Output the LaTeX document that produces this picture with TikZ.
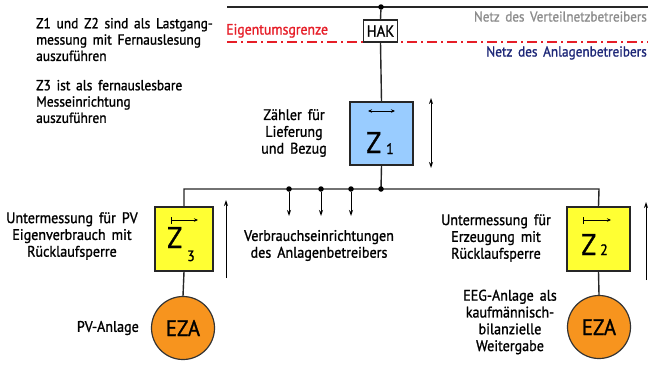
\documentclass[tikz,border=0pt]{standalone}
\usepackage{fontspec}
\setmainfont{PT Sans}[FakeStretch=0.92, FakeBold=1.2, WordSpace=1.6]
\usetikzlibrary{arrows.meta}
\definecolor{zblue}{RGB}{153,204,255}
\definecolor{zyellow}{RGB}{255,255,51}
\definecolor{ezaorange}{RGB}{247,148,30}
\definecolor{grenzred}{RGB}{230,30,40}
\definecolor{navy}{RGB}{30,40,120}
\definecolor{netzgray}{RGB}{140,140,140}
\tikzset{
  wire/.style={line width=1.4bp, black!85},
  meterbox/.style={draw=black!85, line width=1.4bp, minimum height=64bp, inner sep=0pt},
  eza/.style={circle, draw=black!80, line width=1.2bp, fill=ezaorange, minimum size=63bp, inner sep=0pt, font=\fontsize{22.5bp}{22.5bp}\selectfont},
  dotj/.style={circle, fill=black, minimum size=5.5bp, inner sep=0pt},
  flow/.style={line width=1bp, -{Stealth[length=6bp,width=4bp]}},
  inarrow/.style={line width=0.9bp},
  lbl/.style={align=center, font=\fontsize{15.3bp}{16.8bp}\selectfont, inner sep=0pt},
  note/.style={align=left, font=\fontsize{14.6bp}{16.3bp}\selectfont, inner sep=0pt, anchor=west},
  zbig/.style={font=\fontsize{30bp}{30bp}\selectfont, inner sep=0pt},
  zsub/.style={font=\fontsize{15bp}{15bp}\selectfont, inner sep=0pt}
}
\begin{document}
\begin{tikzpicture}[x=1bp,y=-1bp]
\useasboundingbox (0,0) rectangle (648,372);
% top grid line
\coordinate (topL) at (227,7);
\coordinate (topR) at (648,7);
\draw[wire] (topL) -- (topR);
\node[dotj] (jtop) at (381,7) {};
% red boundary
\coordinate (redL) at (227,42);
\coordinate (redR) at (648,42);
\draw[grenzred, line width=1.7bp, dash pattern=on 10bp off 4bp on 2bp off 4bp] (redL) -- (redR);
\node[draw=black!85, line width=1.3bp, fill=white, minimum width=34bp, minimum height=22bp, inner sep=0pt, font=\fontsize{16bp}{16bp}\selectfont] (hak) at (380.5,31) {HAK};
\node[anchor=base west, text=grenzred, font=\fontsize{15bp}{15bp}\selectfont, inner sep=0pt] (eig) at (226,34.5) {Eigentumsgrenze};
\node[anchor=base east, text=netzgray, font=\fontsize{14.2bp}{14bp}\selectfont, inner sep=0pt] (nvnb) at (647,21.5) {Netz des Verteilnetzbetreibers};
\node[anchor=base east, text=navy, font=\fontsize{14.4bp}{14bp}\selectfont, inner sep=0pt] (nab) at (647,56.5) {Netz des Anlagenbetreibers};
% Z1
\node[meterbox, fill=zblue, minimum width=63bp, minimum height=63bp] (z1) at (381.5,133.5) {};
\draw[wire] (jtop) -- (hak.north);
\draw[wire] (hak.south) -- (z1.north);
\coordinate (bus1) at (381,189);
\draw[wire] (z1.south) -- (bus1);
% meters Z3 / Z2
\node[meterbox, fill=zyellow, minimum width=58bp] (z3) at (184,239) {};
\node[meterbox, fill=zyellow, minimum width=63bp] (z2) at (598.5,239) {};
\coordinate (busR) at (599,189);
\draw[wire] (z3.north) |- (busR) -- (z2.north);
% consumer taps
\foreach \n/\x in {c1/289,c2/321,c3/351}{
  \node[dotj] (\n) at (\x,189) {};
  \coordinate (\n e) at (\x,216);
  \draw[flow] (\n) -- (\n e);
}
\node[dotj] (c4) at (381,189) {};
% EZA
\node[eza] (eza3) at (183,328) {EZA};
\node[eza] (eza2) at (599,327) {EZA};
\draw[wire] (z3.south) -- (eza3.north);
\draw[wire] (z2.south) -- (eza2.north);
% symbols in meters
\coordinate (a1s) at (368,111); \coordinate (a1e) at (395,111);
\draw[inarrow, {Stealth[length=4bp,width=3.5bp]}-{Stealth[length=4bp,width=3.5bp]}] (a1s) -- (a1e);
\node[zbig, anchor=base west] (z1t) at (366,153) {Z};
\node[zsub, anchor=base west] (z1s) at (386,154) {1};
\coordinate (a3s) at (171,220); \coordinate (a3e) at (198,220);
\draw[inarrow, {Bar[width=7bp]}-{Stealth[length=4bp,width=3.5bp]}] (a3s) -- (a3e);
\node[zbig, anchor=base west] (z3t) at (167,248) {Z};
\node[zsub, anchor=base west] (z3s) at (187,261) {3};
\coordinate (a2s) at (583,220); \coordinate (a2e) at (611,220);
\draw[inarrow, {Bar[width=7bp]}-{Stealth[length=4bp,width=3.5bp]}] (a2s) -- (a2e);
\node[zbig, anchor=base west] (z2t) at (581,255) {Z};
\node[zsub, anchor=base west] (z2s) at (600,255) {2};
% side flow arrows
\coordinate (d1) at (431,98); \coordinate (d2) at (431,168);
\draw[line width=1bp, {Stealth[length=6bp,width=4bp]}-{Stealth[length=6bp,width=4bp]}] (d1) -- (d2);
\coordinate (u3a) at (226,278); \coordinate (u3b) at (226,200);
\draw[flow] (u3a) -- (u3b);
\coordinate (u2a) at (646,280); \coordinate (u2b) at (646,202);
\draw[flow] (u2a) -- (u2b);
% labels
\node[note] (noteA) at (36,39.5) {Z1 und Z2 sind als Lastgang-\\messung mit Fernauslesung\\auszuführen};
\node[note] (noteB) at (36,101.5) {Z3 ist als fernauslesbare\\Messeinrichtung\\auszuführen};
\node[lbl] (lz1) at (294,133) {Zähler für\\Lieferung\\und Bezug};
\node[lbl] (lverb) at (319,245.5) {Verbrauchseinrichtungen\\des Anlagenbetreibers};
\node[lbl] (lz3) at (72,236) {Untermessung für PV\\Eigenverbrauch mit\\Rücklaufsperre};
\node[lbl] (lz2) at (496,238) {Untermessung für\\Erzeugung mit\\Rücklaufsperre};
\node[lbl, anchor=east] (lpv) at (139,328) {PV-Anlage};
\node[lbl] (leeg) at (510,322) {EEG-Anlage als\\kaufmännisch-\\bilanzielle\\Weitergabe};
\end{tikzpicture}
\end{document}
